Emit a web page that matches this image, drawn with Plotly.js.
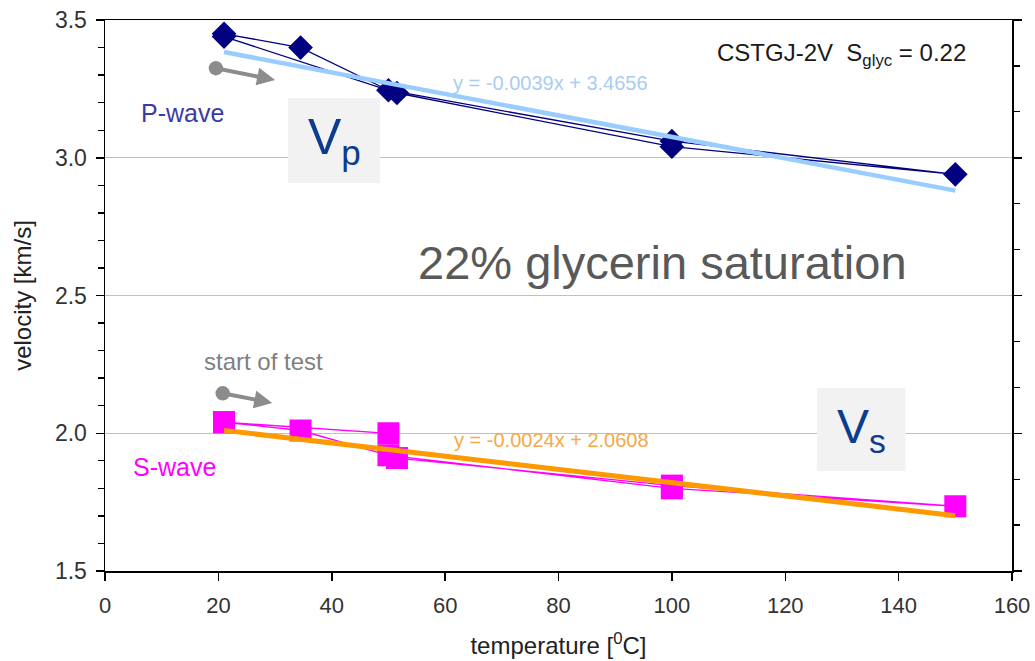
<!DOCTYPE html>
<html>
<head>
<meta charset="utf-8">
<script src="https://cdn.plot.ly/plotly-3.0.1.min.js"></script>
<style>html,body{margin:0;padding:0;background:#fff;}#chart{width:1035px;height:661px;}</style>
</head>
<body>
<div id="chart"></div>
<script>
// ---- data ----
var pTemp = [21, 34.5, 50, 100, 150, 100, 51.5, 21];
var pVel  = [3.45, 3.40, 3.245, 3.06, 2.94, 3.04, 3.235, 3.44];
var sTemp = [21, 34.5, 50, 100, 150, 100, 51.5, 50, 21];
var sVel  = [2.04, 2.01, 1.92, 1.80, 1.735, 1.81, 1.91, 2.00, 2.04];
var trendTemp = [21, 150];
var pTrend = [3.3837, 2.8806];   // y = -0.0039x + 3.4656
var sTrend = [2.0104, 1.7008];   // y = -0.0024x + 2.0608
var xTicks = [0, 20, 40, 60, 80, 100, 120, 140, 160];
var yTicks = [1.5, 2.0, 2.5, 3.0, 3.5];
var yTickText = ['1.5', '2.0', '2.5', '3.0', '3.5'];

var FONT = '"Liberation Sans", Arial, sans-serif';

var traces = [
  {x: pTemp, y: pVel, mode: 'lines+markers', name: 'P-wave',
   line: {color: '#000080', width: 1.3},
   marker: {symbol: 'diamond', size: 19, color: '#000080'}, hoverinfo: 'x+y'},
  {x: sTemp, y: sVel, mode: 'lines+markers', name: 'S-wave',
   line: {color: '#ff00ff', width: 1.3},
   marker: {symbol: 'square', size: 22, color: '#ff00ff'}, hoverinfo: 'x+y'},
  {x: trendTemp, y: pTrend, mode: 'lines', name: 'P trend',
   line: {color: '#99ccff', width: 4.5}},
  {x: trendTemp, y: sTrend, mode: 'lines', name: 'S trend',
   line: {color: '#ff9900', width: 5}},
  {x: [null], y: [null], mode: 'markers', yaxis: 'y2', showlegend: false, hoverinfo: 'skip'}
];

var annFont = function (size, color) { return {family: FONT, size: size, color: color}; };

var layout = {
  width: 1035, height: 661,
  margin: {l: 105, r: 23, t: 20, b: 90},
  paper_bgcolor: '#ffffff', plot_bgcolor: '#ffffff',
  showlegend: false,
  font: {family: FONT, color: '#333333'},
  xaxis: {
    range: [0, 160], tickvals: xTicks, ticks: 'outside', ticklen: 8, tickwidth: 1.5, tickcolor: '#000',
    showline: true, linecolor: '#000', linewidth: 1.5, mirror: true,
    showgrid: false, zeroline: false,
    tickfont: {family: FONT, size: 22, color: '#333'},
    ticklabelstandoff: 6,
    title: {text: 'temperature [<sup>0</sup>C]', font: {family: FONT, size: 24, color: '#222'}, standoff: 20}
  },
  yaxis: {
    range: [1.5, 3.5], tickvals: yTicks, ticktext: yTickText, ticks: 'outside', ticklen: 8, tickwidth: 1.5, tickcolor: '#000',
    showline: true, linecolor: '#000', linewidth: 1.5,
    showgrid: true, gridcolor: '#c0c0c0', gridwidth: 1, zeroline: false,
    minor: {dtick: 0.1, ticks: 'outside', ticklen: 6, tickwidth: 1.3, tickcolor: '#000', showgrid: false},
    tickfont: {family: FONT, size: 23, color: '#333'},
    ticklabelstandoff: 4,
    title: {text: 'velocity [km/s]', font: {family: FONT, size: 24, color: '#222'}, standoff: 16}
  },
  yaxis2: {
    overlaying: 'y', side: 'right', range: [1.5, 3.5], dtick: 0.5, tick0: 1.5,
    ticks: 'outside', ticklen: 8, tickwidth: 1.5, tickcolor: '#000',
    showticklabels: false, showline: true, linecolor: '#000', linewidth: 1.5,
    showgrid: false, zeroline: false,
    minor: {dtick: 0.5 / 3, tick0: 1.5, ticks: 'outside', ticklen: 6, tickwidth: 1.3, tickcolor: '#000', showgrid: false}
  },
  shapes: [
    {type: 'rect', xref: 'x', yref: 'y', x0: 32.3, x1: 48.5, y0: 2.908, y1: 3.217,
     fillcolor: '#f2f2f2', line: {width: 0}, layer: 'above'},
    {type: 'rect', xref: 'x', yref: 'y', x0: 125.6, x1: 141.2, y0: 1.863, y1: 2.164,
     fillcolor: '#f2f2f2', line: {width: 0}, layer: 'above'}
  ],
  annotations: [
    {xref: 'x', yref: 'y', x: 152.3, y: 3.373, xanchor: 'right', yanchor: 'middle', showarrow: false,
     text: 'CSTGJ-2V  S<sub>glyc</sub> = 0.22', font: annFont(24, '#1a1a1a')},
    {xref: 'x', yref: 'y', x: 61, y: 3.271, xanchor: 'left', yanchor: 'middle', showarrow: false,
     text: 'y = -0.0039x + 3.4656', font: annFont(20, '#a9cdf2')},
    {xref: 'x', yref: 'y', x: 61.3, y: 1.976, xanchor: 'left', yanchor: 'middle', showarrow: false,
     text: 'y = -0.0024x + 2.0608', font: annFont(20, '#f5a94a')},
    {xref: 'x', yref: 'y', x: 6.0, y: 3.162, xanchor: 'left', yanchor: 'middle', showarrow: false,
     text: 'P-wave', font: annFont(25, '#3a3aa8')},
    {xref: 'x', yref: 'y', x: 4.6, y: 1.878, xanchor: 'left', yanchor: 'middle', showarrow: false,
     text: 'S-wave', font: annFont(25, '#ff00ff')},
    {xref: 'x', yref: 'y', x: 17.1, y: 2.262, xanchor: 'left', yanchor: 'middle', showarrow: false,
     text: 'start of test', font: annFont(24, '#808080')},
    {xref: 'x', yref: 'y', x: 98.3, y: 2.618, xanchor: 'center', yanchor: 'middle', showarrow: false,
     text: '22% glycerin saturation', font: annFont(47, '#595959')},
    {xref: 'x', yref: 'y', x: 40.4, y: 3.062, xanchor: 'center', yanchor: 'middle', showarrow: false,
     text: 'V<sub>p</sub>', font: annFont(50, '#0d3b8e')},
    {xref: 'x', yref: 'y', x: 133.4, y: 2.013, xanchor: 'center', yanchor: 'middle', showarrow: false,
     text: 'V<sub>s</sub>', font: annFont(48, '#0d3b8e')},
    {xref: 'x', yref: 'y', axref: 'x', ayref: 'y', x: 30, y: 3.282, ax: 19.3, ay: 3.326,
     text: '', showarrow: true, arrowhead: 2, arrowsize: 0.9, arrowwidth: 4, arrowcolor: '#8c8c8c',
     arrowside: 'end+start', startarrowhead: 6, startarrowsize: 0.9, standoff: 0, startstandoff: 0},
    {xref: 'x', yref: 'y', axref: 'x', ayref: 'y', x: 29.5, y: 2.11, ax: 20.5, ay: 2.146,
     text: '', showarrow: true, arrowhead: 2, arrowsize: 0.9, arrowwidth: 4, arrowcolor: '#8c8c8c',
     arrowside: 'end+start', startarrowhead: 6, startarrowsize: 0.9, standoff: 0, startstandoff: 0}
  ]
};

Plotly.newPlot('chart', traces, layout, {displayModeBar: false, staticPlot: true});
</script>
</body>
</html>
